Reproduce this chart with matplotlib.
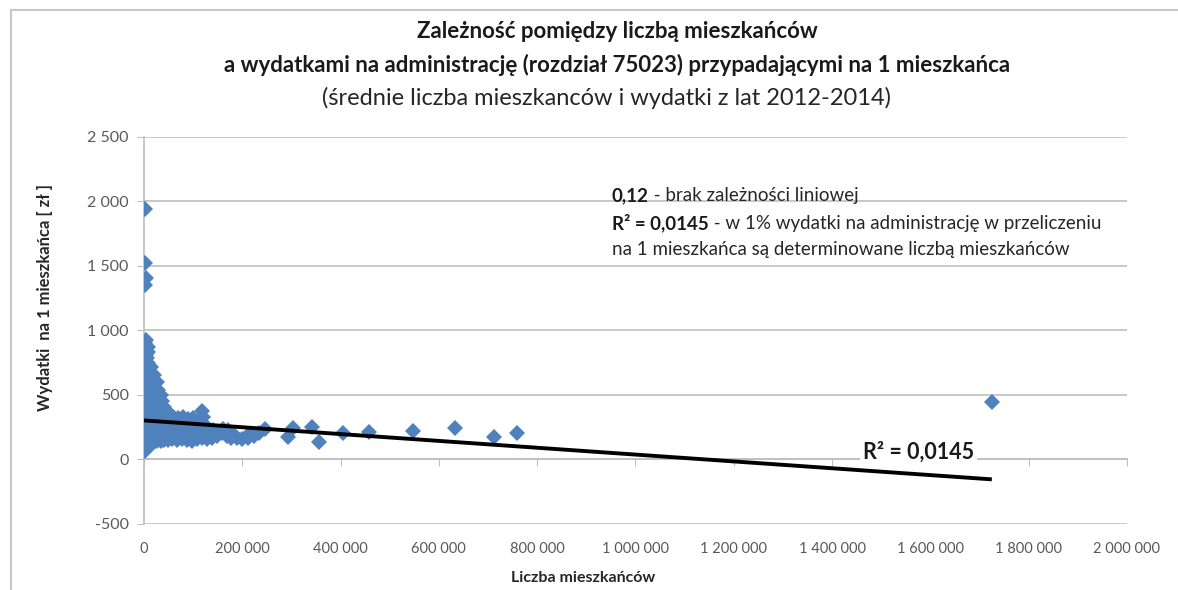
import matplotlib
matplotlib.use("Agg")
import matplotlib.pyplot as plt
from matplotlib.ticker import FuncFormatter, MultipleLocator, FixedLocator
from matplotlib.lines import Line2D

plt.rcParams['font.family'] = ['Lato', 'DejaVu Sans']

# --- data ------------------------------------------------------------------
# liczba mieszkańców (x) and wydatki na 1 mieszkańca in zł (y)
pop_small = [2500, 1500, 4000, 2000,
             3000, 2200, 3600, 2800, 4200, 1800, 3200, 2600, 4400, 2000,
             3400, 2900, 4100, 2300, 3700, 2700, 4300, 3100, 2400, 3800,
             7000, 8500, 6200, 9400, 7600, 6800, 9000, 8000, 6500, 9600,
             7300, 8800, 6400, 9200, 7800, 7100, 8600, 8200,
             13000, 14500, 12200, 15600, 13600, 12800, 15000, 14000, 12500,
             15400, 13300, 14800, 12600, 14200,
             19000, 21500, 18400, 23000, 20200, 22400, 19600, 21000, 23600,
             18800, 22000, 20600,
             27000, 29000, 26200, 28400, 30000, 27600, 26800, 29400, 28000,
             27200,
             34000, 36500, 33200, 37600, 35000, 34600, 36000, 33800,
             41000, 43500, 40200, 44600, 42000, 41600,
             49000, 51500, 48200, 50600, 49600]
exp_small = [1945, 1525, 1410, 1350,
             65, 110, 160, 205, 250, 300, 345, 390, 440, 485,
             530, 580, 625, 670, 720, 765, 810, 855, 900, 925,
             90, 140, 185, 235, 280, 325, 375, 420, 465, 515,
             560, 605, 650, 700, 745, 790, 835, 875,
             120, 170, 215, 260, 310, 355, 400, 450, 495,
             540, 590, 635, 680, 720,
             130, 185, 230, 280, 325, 375, 420, 465, 515,
             560, 610, 655,
             140, 200, 245, 295, 345, 390, 440, 490, 540,
             600,
             145, 205, 255, 300, 350, 400, 455, 500,
             150, 210, 260, 310, 360, 410,
             150, 215, 270, 320, 370]

pop_mid = [58000, 61000, 57000, 60000,
           68000, 71000, 66000, 70000,
           78000, 81000, 76000, 80000,
           88000, 91000, 86000, 90000,
           98000, 101000, 96000, 100000,
           108000, 111000, 106000,
           118000, 121000, 116000, 120000, 119000,
           128000, 131000, 126000,
           138000, 141000,
           148000,
           158000, 160000, 168000, 170000, 178000, 180000,
           190000, 200000, 212000, 214000, 224000, 234000, 246000]
exp_mid = [155, 225, 280, 330,
           150, 215, 270, 320,
           160, 225, 280, 330,
           150, 220, 275, 315,
           145, 215, 270, 320,
           155, 220, 270,
           165, 230, 285, 330, 375,
           160, 210, 260,
           170, 225,
           185,
           205, 240, 180, 225, 165, 205,
           170, 160, 165, 195, 180, 205, 235]

pop_large = [293000, 303000, 342000, 356000, 405000, 458000, 547000,
             633000, 712000, 759000, 1725000]
exp_large = [171, 241, 248, 132, 202, 210, 217, 241, 171, 202, 443]

x_ticks = [0, 200000, 400000, 600000, 800000, 1000000,
           1200000, 1400000, 1600000, 1800000, 2000000]

# linear trend line (Excel) and its R²
trend_intercept = 303
trend_slope = -0.000265
r2_label = 'R² = 0,0145'

title_1 = 'Zależność pomiędzy liczbą mieszkańców'
title_2 = 'a wydatkami na administrację (rozdział 75023) przypadającymi na 1 mieszkańca'
title_3 = '(średnie liczba mieszkanców i wydatki z lat 2012-2014)'
x_label = 'Liczba mieszkańców'
y_label = 'Wydatki  na 1 mieszkańca [ zł ]'

note_lines = [('0,12', ' - brak zależności liniowej'),
              ('R² = 0,0145', ' - w 1% wydatki na administrację w przeliczeniu'),
              ('', 'na 1 mieszkańca są determinowane liczbą mieszkańców')]

# --- figure -----------------------------------------------------------------
blue = '#4F81BD'
grid_col = '#BFBFBF'
tick_col = '#595959'

fig = plt.figure(figsize=(11.78, 5.90), dpi=100)
ax = fig.add_axes([0.1222, 0.1119, 0.8345, 0.6559])

pop = pop_small + pop_mid + pop_large
exp = exp_small + exp_mid + exp_large
ax.plot(pop, exp, linestyle='none', marker='D', markersize=7.8,
        color=blue, markeredgewidth=0, zorder=3)

x_end = max(pop)
ax.plot([0, x_end], [trend_intercept, trend_intercept + trend_slope * x_end],
        color='black', linewidth=2.8, zorder=4, solid_capstyle='butt')

ax.set_xlim(0, 2000000)
ax.set_ylim(-500, 2500)
ax.xaxis.set_major_locator(FixedLocator(x_ticks))
ax.yaxis.set_major_locator(MultipleLocator(500))

fmt = FuncFormatter(lambda v, p: f"{int(round(v)):,}".replace(',', ' '))
ax.yaxis.set_major_formatter(fmt)

ax.yaxis.grid(True, color=grid_col, linewidth=1.2, zorder=0)
ax.set_axisbelow(True)
for s in ['top', 'right']:
    ax.spines[s].set_visible(False)
ax.spines['left'].set_color(grid_col)
ax.spines['left'].set_linewidth(1.2)
ax.spines['bottom'].set_position(('data', 0))
ax.spines['bottom'].set_color(grid_col)
ax.spines['bottom'].set_linewidth(1.2)

ax.tick_params(axis='y', direction='out', length=5, color=grid_col,
               labelsize=11.5, labelcolor=tick_col, pad=6)
ax.tick_params(axis='x', direction='out', length=5, color=grid_col,
               labelbottom=False)

# x tick labels sit at the bottom of the plot, not on the zero line
sec = ax.secondary_xaxis(0)
sec.xaxis.set_major_locator(FixedLocator(x_ticks))
sec.xaxis.set_major_formatter(fmt)
sec.spines['bottom'].set_visible(False)
sec.tick_params(axis='x', length=0, labelsize=10.5, labelcolor=tick_col, pad=13)

# R² label on the trend line
ax.text(1576000, 55, r2_label, fontsize=15.5, fontweight='bold', color='#1a1a1a',
        ha='center', va='center', zorder=5,
        bbox=dict(facecolor='white', edgecolor='none', pad=2))

# titles
fig.text(0.5238, 0.946, title_1, ha='center', va='center', fontsize=16,
         fontweight='bold', color='#1a1a1a')
fig.text(0.5238, 0.8895, title_2, ha='center', va='center', fontsize=16,
         fontweight='bold', color='#1a1a1a')
fig.text(0.5150, 0.8336, title_3, ha='center', va='center', fontsize=17,
         color='#262626')

fig.text(0.4949, 0.0203, x_label, ha='center', va='center', fontsize=11.5,
         fontweight='bold', color='#262626')
fig.text(0.0382, 0.4966, y_label, ha='center', va='center', fontsize=12,
         fontweight='bold', color='#262626', rotation=90)

# note with mixed bold / normal text
renderer = fig.canvas.get_renderer()
note_x = 0.5195
note_y = [0.6678, 0.622, 0.5763]
for (bold, rest), y in zip(note_lines, note_y):
    x = note_x
    if bold:
        t = fig.text(x, y, bold, ha='left', va='center', fontsize=13.5,
                     fontweight='bold', color='#1a1a1a')
        bb = t.get_window_extent(renderer=renderer)
        x = bb.x1 / fig.bbox.width
    fig.text(x, y, rest, ha='left', va='center', fontsize=13.5, color='#262626')

# chart frame
fig.add_artist(Line2D([11 / 1178, 11 / 1178], [0, 1 - 10 / 590],
                      color='#C8C8C8', linewidth=1.5))
fig.add_artist(Line2D([11 / 1178, 1], [1 - 10 / 590, 1 - 10 / 590],
                      color='#C8C8C8', linewidth=1.5))

fig.savefig('out.png', dpi=100)
